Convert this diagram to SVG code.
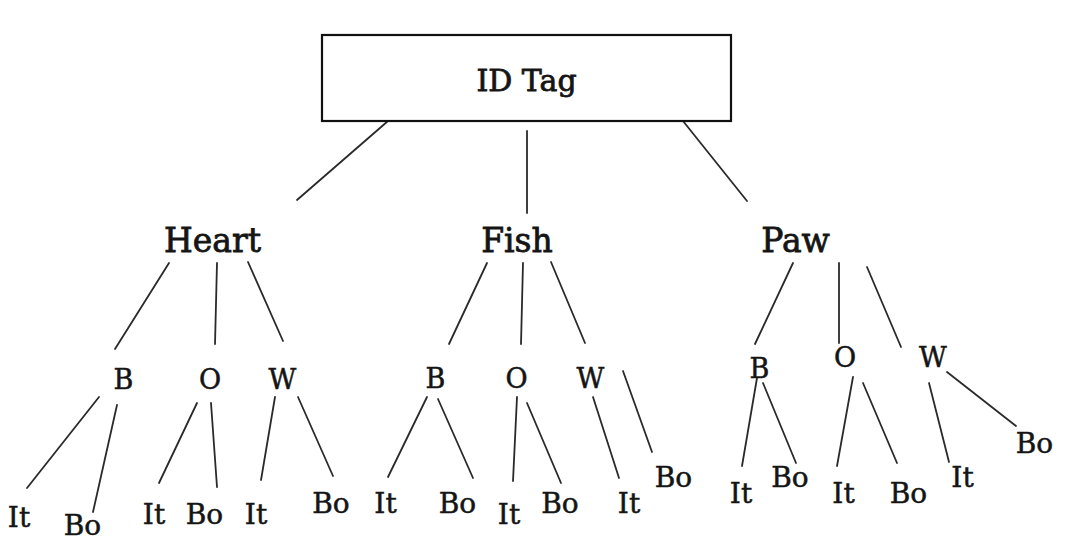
<svg xmlns="http://www.w3.org/2000/svg" width="1066" height="556" viewBox="0 0 1066 556">
<style>
text{font-family:"DejaVu Serif","Liberation Serif",serif;fill:#151515;stroke:#151515;text-anchor:middle}
.t0{font-size:30px;stroke-width:0.8}
.t1{font-size:33px;stroke-width:0.8}
.t2{font-size:27px;stroke-width:0.5}
.t3{font-size:28px;stroke-width:0.5}
.box{fill:#fff;stroke:#111;stroke-width:2.2}
#connectors line{stroke:#2a2a2a;stroke-width:1.8;stroke-linecap:round}
</style>
<rect width="1066" height="556" fill="#fff"/>
<g id="connectors">
<line x1="388" y1="121" x2="297" y2="200"/>
<line x1="527" y1="131" x2="527" y2="213"/>
<line x1="683" y1="121" x2="747" y2="201"/>
<line x1="169" y1="263" x2="115" y2="349"/>
<line x1="217" y1="263" x2="215" y2="344"/>
<line x1="248" y1="262" x2="283" y2="341"/>
<line x1="487" y1="263" x2="449" y2="344"/>
<line x1="523" y1="263" x2="521" y2="344"/>
<line x1="551" y1="262" x2="585" y2="343"/>
<line x1="793" y1="263" x2="755" y2="344"/>
<line x1="839" y1="263" x2="839" y2="343"/>
<line x1="867" y1="267" x2="901" y2="347"/>
<line x1="99" y1="397" x2="27" y2="488"/>
<line x1="117" y1="405" x2="93" y2="512"/>
<line x1="197" y1="403" x2="159" y2="483"/>
<line x1="211" y1="403" x2="217" y2="487"/>
<line x1="275" y1="397" x2="261" y2="480"/>
<line x1="298" y1="397" x2="333" y2="476"/>
<line x1="427" y1="397" x2="388" y2="477"/>
<line x1="438" y1="399" x2="473" y2="478"/>
<line x1="517" y1="397" x2="513" y2="481"/>
<line x1="527" y1="403" x2="561" y2="483"/>
<line x1="593" y1="397" x2="619" y2="478"/>
<line x1="623" y1="371" x2="652" y2="452"/>
<line x1="757" y1="378" x2="742" y2="466"/>
<line x1="763" y1="383" x2="796" y2="463"/>
<line x1="853" y1="377" x2="837" y2="466"/>
<line x1="863" y1="383" x2="897" y2="463"/>
<line x1="929" y1="383" x2="949" y2="462"/>
<line x1="947" y1="372" x2="1016" y2="426"/>
</g>
<g id="n-idtag"><rect class="box" x="322" y="35" width="409" height="86"/><text class="t0" x="526.5" y="91">ID Tag</text></g>
<g id="n-heart"><text class="t1" x="212.5" y="252">Heart</text></g>
<g id="n-fish"><text class="t1" x="517" y="252">Fish</text></g>
<g id="n-paw"><text class="t1" x="795.5" y="252">Paw</text></g>
<g id="n-heart-b"><text class="t2" x="123.5" y="389">B</text></g>
<g id="n-heart-o"><text class="t2" x="210" y="389">O</text></g>
<g id="n-heart-w"><text class="t2" x="282.5" y="389">W</text></g>
<g id="n-fish-b"><text class="t2" x="435.5" y="388">B</text></g>
<g id="n-fish-o"><text class="t2" x="516.5" y="388">O</text></g>
<g id="n-fish-w"><text class="t2" x="590.5" y="388">W</text></g>
<g id="n-paw-b"><text class="t2" x="759.5" y="378">B</text></g>
<g id="n-paw-o"><text class="t2" x="845" y="367">O</text></g>
<g id="n-paw-w"><text class="t2" x="933" y="367">W</text></g>
<g id="n-hb-it"><text class="t3" x="19" y="527">It</text></g>
<g id="n-hb-bo"><text class="t3" x="82.5" y="535">Bo</text></g>
<g id="n-ho-it"><text class="t3" x="154" y="524">It</text></g>
<g id="n-ho-bo"><text class="t3" x="204.5" y="524">Bo</text></g>
<g id="n-hw-it"><text class="t3" x="256" y="524">It</text></g>
<g id="n-hw-bo"><text class="t3" x="331" y="513">Bo</text></g>
<g id="n-fb-it"><text class="t3" x="385.5" y="513">It</text></g>
<g id="n-fb-bo"><text class="t3" x="457.5" y="513">Bo</text></g>
<g id="n-fo-it"><text class="t3" x="509" y="524">It</text></g>
<g id="n-fo-bo"><text class="t3" x="560" y="513">Bo</text></g>
<g id="n-fw-it"><text class="t3" x="629" y="513">It</text></g>
<g id="n-fw-bo"><text class="t3" x="673.5" y="487">Bo</text></g>
<g id="n-pb-it"><text class="t3" x="741" y="503">It</text></g>
<g id="n-pb-bo"><text class="t3" x="790" y="487">Bo</text></g>
<g id="n-po-it"><text class="t3" x="843.5" y="503">It</text></g>
<g id="n-po-bo"><text class="t3" x="908.5" y="503">Bo</text></g>
<g id="n-pw-it"><text class="t3" x="962.5" y="487">It</text></g>
<g id="n-pw-bo"><text class="t3" x="1034.5" y="453">Bo</text></g>
</svg>
